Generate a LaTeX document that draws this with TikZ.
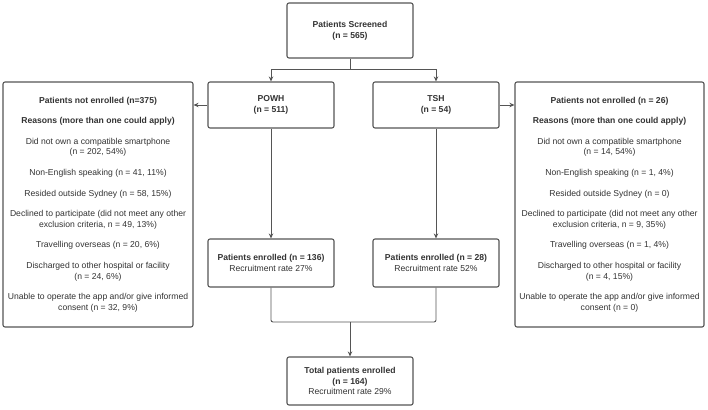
\documentclass[tikz,border=0pt]{standalone}
\usepackage{fontspec}
\setmainfont{Liberation Sans}
\usetikzlibrary{arrows.meta}
\definecolor{linec}{HTML}{555555}
\definecolor{txtc}{HTML}{333333}
\tikzset{
  box/.style={draw=linec, line width=1.1pt, rounded corners=2pt, align=center, text=txtc, font=\fontsize{8.6}{10.6}\selectfont, inner sep=0pt},
  conn/.style={draw=linec, line width=0.9pt},
  arr/.style={conn, -{Stealth[length=5pt,width=4.5pt]}}
}
\begin{document}
\begin{tikzpicture}[x=1pt,y=-1pt]
\useasboundingbox (0,0) rectangle (708,409);
\fill[white] (0,0) rectangle (708,409);
\node[box, minimum width=126pt, minimum height=55pt] (top) at (350,30.5) {\textbf{Patients Screened}\\\textbf{(n = 565)}};
\node[box, minimum width=126pt, minimum height=46pt] (powh) at (271,105) {\textbf{POWH}\\\textbf{(n = 511)}};
\node[box, minimum width=126pt, minimum height=46pt] (tsh) at (436,105) {\textbf{TSH}\\\textbf{(n = 54)}};
\node[box, minimum width=190pt, minimum height=245pt] (left) at (98,204.5) {%
\textbf{Patients not enrolled (n=375)}\\[10pt]
\textbf{Reasons (more than one could apply)}\\[10pt]
Did not own a compatible smartphone\\(n = 202, 54\%)\\[10pt]
Non-English speaking (n = 41, 11\%)\\[10pt]
Resided outside Sydney (n = 58, 15\%)\\[10pt]
Declined to participate (did not meet any other\\exclusion criteria, n = 49, 13\%)\\[10pt]
Travelling overseas (n = 20, 6\%)\\[10pt]
Discharged to other hospital or facility\\(n = 24, 6\%)\\[10pt]
Unable to operate the app and/or give informed\\consent (n = 32, 9\%)};
\node[box, minimum width=189pt, minimum height=245pt] (right) at (609.5,204.5) {%
\textbf{Patients not enrolled (n = 26)}\\[10pt]
\textbf{Reasons (more than one could apply)}\\[10pt]
Did not own a compatible smartphone\\(n = 14, 54\%)\\[10pt]
Non-English speaking (n = 1, 4\%)\\[10pt]
Resided outside Sydney (n = 0)\\[10pt]
Declined to participate (did not meet any other\\exclusion criteria, n = 9, 35\%)\\[10pt]
Travelling overseas (n = 1, 4\%)\\[10pt]
Discharged to other hospital or facility\\(n = 4, 15\%)\\[10pt]
Unable to operate the app and/or give informed\\consent (n = 0)};
\node[box, minimum width=126pt, minimum height=48pt] (enp) at (271,263) {\textbf{Patients enrolled (n = 136)}\\Recruitment rate 27\%};
\node[box, minimum width=126pt, minimum height=48pt] (ent) at (436,263) {\textbf{Patients enrolled (n = 28)}\\Recruitment rate 52\%};
\node[box, minimum width=126pt, minimum height=48pt] (tot) at (350,381) {\textbf{Total patients enrolled}\\\textbf{(n = 164)}\\Recruitment rate 29\%};
\coordinate (split) at (350,69);
\coordinate (merge) at (350,322);
\draw[conn] (top.south) -- (split);
\draw[arr] (split) -| (powh.north);
\draw[arr] (split) -| (tsh.north);
\draw[arr] (powh.west) -- (powh.west -| left.east);
\draw[arr] (tsh.east) -- (tsh.east -| right.west);
\draw[arr] (powh.south) -- (enp.north);
\draw[arr] (tsh.south) -- (ent.north);
\draw[conn, rounded corners=2pt] (enp.south) |- (merge) -| (ent.south);
\draw[arr] (merge) -- (tot.north);
\end{tikzpicture}
\end{document}
